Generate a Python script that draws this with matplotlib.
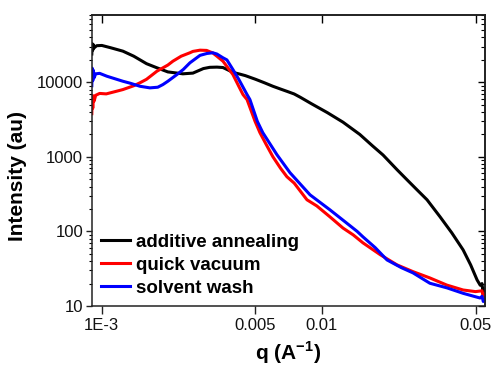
import matplotlib
matplotlib.use("Agg")
import matplotlib.pyplot as plt
from matplotlib.ticker import FixedLocator, FixedFormatter, LogLocator, NullLocator, NullFormatter

plt.rcParams['font.family'] = ['Liberation Sans', 'DejaVu Sans']
plt.rcParams['mathtext.fontset'] = 'custom'
plt.rcParams['mathtext.rm'] = 'Liberation Sans:bold'
plt.rcParams['mathtext.bf'] = 'Liberation Sans:bold'

# ---- data ----
black_q = [0.000903, 0.000907, 0.000912, 0.000918, 0.000925, 0.00095, 0.001003, 0.0011, 0.00125, 0.0014,
           0.0016, 0.001784, 0.002, 0.00234, 0.0026, 0.0029, 0.0031, 0.00334, 0.00356, 0.0038,
           0.00395, 0.0042, 0.0045, 0.005, 0.0055, 0.006, 0.0065, 0.007, 0.0075, 0.008,
           0.009, 0.0106, 0.0125, 0.0149, 0.017, 0.019, 0.022, 0.0244, 0.0271, 0.0301,
           0.0345, 0.039, 0.0439, 0.0475, 0.0508, 0.0525, 0.0535, 0.0541, 0.0545, 0.0548]
black_I = [24000, 33000, 27000, 32000, 29000, 31000, 31240, 29100, 26190, 22430,
           17800, 15670, 13800, 13010, 13300, 15300, 15900, 16000, 15800, 14400,
           13600, 13000, 12300, 11000, 9850, 8860, 8130, 7520, 6980, 6300,
           5150, 3930, 2920, 2000, 1410, 1060, 673, 494, 362, 266,
           157, 95.8, 56.6, 35.6, 22.4, 19, 20, 14.5, 17, 14]

red_q = [0.000903, 0.000907, 0.000912, 0.000918, 0.000925, 0.00094, 0.00098, 0.00105, 0.00115, 0.00125,
         0.0014, 0.001493, 0.0016, 0.001784, 0.002, 0.002109, 0.0023, 0.002519, 0.0026, 0.0028,
         0.0030, 0.0032, 0.00334, 0.00356, 0.00375, 0.00395, 0.0042, 0.00439, 0.00458, 0.00498,
         0.00524, 0.0056, 0.006, 0.0065, 0.00695, 0.0075, 0.00857, 0.0095, 0.0109, 0.0125,
         0.0139, 0.0154, 0.0185, 0.022, 0.026, 0.031, 0.037, 0.0439, 0.050, 0.0535,
         0.0541, 0.0548]
red_I = [3800, 6300, 4500, 6600, 5600, 6700, 7100, 7000, 7500, 8000,
         9000, 9850, 10980, 14100, 17050, 19220, 22430, 24920, 26000, 27000,
         26800, 24800, 22430, 19220, 15670, 12730, 8860, 6850, 5870, 3000,
         2115, 1460, 1006, 705, 542, 445, 266, 220, 157, 111,
         90, 70.3, 48.5, 35.6, 28.9, 23.8, 19.1, 16.4, 15.6, 16,
         13.5, 14.5]

blue_q = [0.000903, 0.000907, 0.000912, 0.000918, 0.000925, 0.00094, 0.00098, 0.001057, 0.00125, 0.00135,
          0.001493, 0.001658, 0.0018, 0.0019, 0.002, 0.0022, 0.00235, 0.00252, 0.0028, 0.00301,
          0.0032, 0.00334, 0.00356, 0.00371, 0.00395, 0.0042, 0.00458, 0.00472, 0.0051, 0.0054,
          0.00626, 0.00718, 0.00885, 0.0109, 0.0126, 0.0145, 0.0154, 0.0175, 0.0198, 0.023,
          0.026, 0.031, 0.0371, 0.0439, 0.0524, 0.0535, 0.0542, 0.0548]
blue_I = [9000, 15500, 10500, 14500, 11500, 13000, 13200, 12080, 10340, 9730,
          8860, 8430, 8600, 9340, 10340, 12730, 14860, 18280, 23000, 24380,
          24920, 24000, 21350, 20000, 14860, 10980, 6850, 5870, 3000, 2115,
          1071, 613, 310, 195, 139, 100, 84.6, 60.7, 41.5, 32.7,
          27.8, 20.2, 17.5, 14.8, 12.8, 13.5, 11.5, 12]

labels = ['additive annealing', 'quick vacuum', 'solvent wash']
colors = ['#000000', '#ff0000', '#0000ff']

x_ticks = [0.001, 0.005, 0.01, 0.05]
x_ticklabels = ['1E-3', '0.005', '0.01', '0.05']
y_ticks = [10, 100, 1000, 10000]
y_ticklabels = ['10', '100', '1000', '10000']

# ---- figure ----
fig = plt.figure(figsize=(4.93, 3.66), dpi=100)
ax = fig.add_axes([0.1856, 0.1639, 0.7982, 0.7951])

for q, I, lab, c in zip([black_q, red_q, blue_q], [black_I, red_I, blue_I], labels, colors):
    ax.plot(q, I, color=c, lw=2.2, label=lab, solid_joinstyle='round')

ax.set_xscale('log')
ax.set_yscale('log')
ax.set_xlim(0.0009, 0.0552)
ax.set_ylim(10, 80000)

ax.xaxis.set_major_locator(FixedLocator(x_ticks))
ax.xaxis.set_major_formatter(FixedFormatter(x_ticklabels))
ax.xaxis.set_minor_locator(NullLocator())
ax.yaxis.set_major_locator(FixedLocator(y_ticks))
ax.yaxis.set_major_formatter(FixedFormatter(y_ticklabels))
ax.yaxis.set_minor_locator(LogLocator(base=10, subs=range(2, 10)))
ax.yaxis.set_minor_formatter(NullFormatter())

for s in ax.spines.values():
    s.set_linewidth(1.1)
    s.set_color('#222222')

ax.tick_params(axis='both', which='major', direction='out', labelsize=12, width=1.0, colors='#222222')
ax.tick_params(axis='x', which='major', length=5.5, pad=3)
ax.tick_params(axis='y', which='major', length=4, pad=2)
ax.tick_params(axis='y', which='minor', direction='out', length=2.2, width=0.8)
for lab in ax.get_xticklabels() + ax.get_yticklabels():
    lab.set_color('#111111')

# mirrored ticks pointing inward on top and right
secx = ax.secondary_xaxis('top')
secx.xaxis.set_major_locator(FixedLocator(x_ticks))
secx.xaxis.set_minor_locator(NullLocator())
secx.tick_params(axis='x', which='major', direction='in', length=5.5, width=1.0, labeltop=False)
secx.spines['top'].set_linewidth(1.1)

secy = ax.secondary_yaxis('right')
secy.yaxis.set_major_locator(FixedLocator(y_ticks))
secy.yaxis.set_minor_locator(LogLocator(base=10, subs=range(2, 10)))
secy.yaxis.set_minor_formatter(NullFormatter())
secy.tick_params(axis='y', which='major', direction='in', length=5, width=1.0, labelright=False)
secy.tick_params(axis='y', which='minor', direction='in', length=2.8, width=0.8)
secy.spines['right'].set_linewidth(1.1)

ax.set_xlabel('q (A$^{-1}$)', fontsize=15, fontweight='bold', labelpad=4.5)
ax.set_ylabel('Intensity (au)', fontsize=15, fontweight='bold')
ax.yaxis.set_label_coords(-0.164, 0.447)

leg = ax.legend(loc='lower left', frameon=False, handlelength=1.55,
                handletextpad=0.3, labelspacing=0.31, borderaxespad=0.1,
                prop={'weight': 'bold', 'size': 13.5})
for h in leg.get_lines():
    h.set_linewidth(2.2)

fig.savefig('out.png', dpi=100)
